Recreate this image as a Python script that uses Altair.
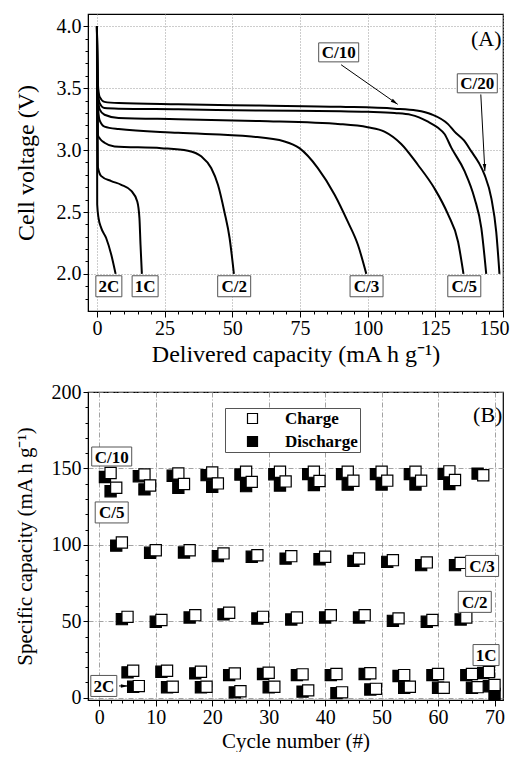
import math
import altair as alt
import pandas as pd

FONT = "Liberation Serif"

# ---------------- Panel A : discharge curves ----------------
curve_names = ["C/20", "C/10", "C/5", "C/3", "C/2", "1C", "2C"]
c20_x = [0, 0.3, 1, 2.8, 8, 30, 60, 90, 110, 118, 123.5, 129.7, 132.1, 135.5, 138.3, 141, 143.2, 145.7, 147.5, 148.7]
c20_v = [4.0, 3.55, 3.43, 3.39, 3.38, 3.37, 3.36, 3.35, 3.335, 3.32, 3.29, 3.21, 3.15, 3.08, 2.99, 2.90, 2.80, 2.61, 2.34, 2.0]
c10_x = [0, 0.3, 1, 2.8, 8, 30, 60, 90, 100, 110, 116, 122.3, 126, 128.4, 130.9, 135.8, 139.5, 142, 143.8]
c10_v = [4.0, 3.5, 3.38, 3.34, 3.335, 3.33, 3.32, 3.315, 3.31, 3.30, 3.285, 3.23, 3.18, 3.13, 3.02, 2.83, 2.61, 2.37, 2.0]
c5_x = [0, 0.3, 1, 2.8, 8, 30, 60, 90, 100, 106.2, 112.4, 118.6, 124.7, 129.7, 133.4, 135.4]
c5_v = [4.0, 3.45, 3.33, 3.286, 3.26, 3.25, 3.235, 3.21, 3.185, 3.15, 3.05, 2.88, 2.69, 2.48, 2.26, 2.0]
c3_x = [0, 0.3, 1, 2.8, 8, 30, 57, 69.3, 74.8, 81.6, 87.8, 92.7, 96.4, 99.5]
c3_v = [4.0, 3.38, 3.24, 3.19, 3.17, 3.14, 3.11, 3.07, 3.016, 2.855, 2.64, 2.42, 2.235, 2.0]
c2_x = [0, 0.37, 1.2, 2.8, 6.5, 23.8, 33.6, 38.5, 42.2, 44.7, 47.1, 49, 50.6]
c2_v = [4.0, 3.12, 3.09, 3.06, 3.03, 3.016, 2.995, 2.95, 2.855, 2.72, 2.5, 2.29, 2.0]
c1_x = [0, 0.37, 1.6, 5.3, 9.0, 12.7, 14.9, 15.7, 16.1, 16.6]
c1_v = [4.0, 2.86, 2.79, 2.75, 2.72, 2.67, 2.585, 2.45, 2.235, 2.0]
c2c_x = [0, 0.1, 0.6, 1.6, 3.4, 5.3, 6.9]
c2c_v = [4.0, 2.56, 2.45, 2.37, 2.29, 2.155, 2.0]

a_labels = ["2C", "1C", "C/2", "C/3", "C/5", "C/10", "C/20"]
a_label_x = [4.4, 17.8, 50.7, 99.6, 135.7, 89.3, 140.5]
a_label_y = [1.9, 1.9, 1.9, 1.9, 1.9, 3.79, 3.54]

a_arrow_from_x = [90.2, 141.8]
a_arrow_from_y = [3.69, 3.45]
a_arrow_to_x = [111.1, 143.3]
a_arrow_to_y = [3.37, 2.83]

a_x_major = [0, 25, 50, 75, 100, 125, 150]
a_y_major = [2.0, 2.5, 3.0, 3.5, 4.0]

# ---------------- Panel B : rate capability ----------------
b_c10_dx = [1, 7, 13, 19, 25, 31, 37, 43, 49, 55, 61, 67]
b_c10_d = [144.4, 144.9, 145.2, 145.6, 146.0, 146.2, 146.3, 146.3, 146.3, 146.3, 146.4, 146.6]
b_c10_cx = [2, 8, 14, 20, 26, 32, 38, 44, 50, 56, 62, 68]
b_c10_c = [147.0, 146.0, 146.7, 147.3, 147.8, 147.8, 147.9, 147.9, 147.9, 147.9, 148.1, 145.5]

b_c5_dx = [2, 8, 14, 20, 26, 32, 38, 44, 50, 56, 62]
b_c5_d = [135.1, 136.3, 137.4, 137.9, 138.4, 138.8, 139.2, 139.4, 139.5, 139.5, 139.8]
b_c5_cx = [3, 9, 15, 21, 27, 33, 39, 45, 51, 57, 63]
b_c5_c = [137.4, 138.8, 139.8, 140.2, 141.2, 141.5, 141.8, 141.9, 142.0, 142.0, 142.4]

b_c3_dx = [3, 9, 15, 21, 27, 33, 39, 45, 51, 57, 63]
b_c3_d = [99.5, 94.8, 95.0, 92.6, 92.2, 91.0, 90.6, 89.5, 88.9, 86.7, 86.7]
b_c3_cx = [4, 10, 16, 22, 28, 34, 40, 46, 52, 58, 64]
b_c3_c = [101.5, 96.5, 96.5, 94.4, 93.2, 92.6, 92.2, 91.1, 90.0, 88.5, 88.2]

b_c2_dx = [4, 10, 16, 22, 28, 34, 40, 46, 52, 58, 64]
b_c2_d = [51.4, 49.7, 52.5, 54.5, 51.8, 51.2, 52.5, 52.5, 50.3, 49.7, 51.2]
b_c2_cx = [5, 11, 17, 23, 29, 35, 41, 47, 53, 59, 65]
b_c2_c = [52.9, 50.8, 54.0, 55.6, 52.9, 52.5, 54.0, 54.0, 51.9, 50.8, 52.5]

b_1c_dx = [5, 11, 17, 23, 29, 35, 41, 47, 53, 59, 65, 68]
b_1c_d = [16.6, 17.0, 15.9, 14.8, 15.5, 14.8, 14.8, 15.5, 14.2, 14.8, 14.8, 16.2]
b_1c_cx = [6, 12, 18, 24, 30, 36, 42, 48, 54, 60, 66, 69]
b_1c_c = [17.6, 17.6, 17.0, 15.9, 16.3, 15.3, 15.5, 16.0, 14.8, 15.5, 15.5, 16.8]

b_2c_dx = [6, 12, 18, 24, 30, 36, 42, 48, 54, 60, 66, 69, 70]
b_2c_d = [7.2, 6.8, 6.8, 3.5, 6.8, 4.0, 3.0, 5.4, 6.5, 6.5, 6.5, 7.5, 2.5]
b_2c_cx = [7, 13, 19, 25, 31, 37, 43, 49, 55, 61, 67, 70]
b_2c_c = [7.6, 7.2, 7.2, 4.2, 7.2, 4.8, 3.5, 5.8, 7.2, 6.5, 6.9, 8.3]

b_labels = ["C/10", "C/5", "C/3", "C/2", "1C", "2C"]
b_label_x = [2.2, 2.2, 67.8, 66.5, 68.5, 0.8]
b_label_y = [157.8, 121.2, 86.2, 62.7, 27.9, 7.7]

b_arrow_from_x = [3.5]
b_arrow_from_y = [7.7]
b_arrow_to_x = [5.1]
b_arrow_to_y = [7.7]

b_x_major = [0, 10, 20, 30, 40, 50, 60, 70]
b_y_major = [0, 50, 100, 150, 200]

series_names = ["Charge", "Discharge"]

# ---------------- geometry / styles ----------------
A_W, A_H = 415, 297
B_W, B_H = 415, 308
A_XDOM, A_YDOM = [-3.3, 150], [1.7, 4.1]
B_XDOM, B_YDOM = [-2, 71.5], [-1.5, 200]

HEAD = "M0,0L0.45,1.8L-0.45,1.8Z"
BOX_EXPR = ("length(datum.label) <= 2 ? 'M-1.3,-1.05H1.3V1.05H-1.3Z' : "
            "(length(datum.label) == 3 ? 'M-1.65,-1.05H1.65V1.05H-1.65Z' : 'M-2,-0.95H2V0.95H-2Z')")
NBSP4 = "\u00a0\u00a0\u00a0\u00a0"


def cond(test, minor_val, major_val):
    return {"condition": {"test": test, "value": minor_val}, "value": major_val}


# Panel A axes
a_x_ticks = sorted(set(a_x_major + list(range(0, 151, 5))))
a_y_ticks = [round(1.8 + 0.1 * i, 1) for i in range(23)]
a_x_minor = "datum.value % 25 !== 0"
a_y_minor = "abs(datum.value*2 - round(datum.value*2)) > 0.001"

axA_x = alt.Axis(values=a_x_ticks, title="Delivered capacity (mA h g\u207b\u00b9)",
                 labelExpr=f"({a_x_minor}) ? '' : datum.label",
                 tickSize=cond(a_x_minor, 3, 6), gridOpacity=cond(a_x_minor, 0, 1),
                 gridDash=[1, 2], gridColor="#9a9a9a", gridWidth=1, titleFontSize=24,
                 labelPadding=1, titlePadding=4, labelOverlap=False,
                 labelFlush=5, labelFlushOffset=6)
axA_y = alt.Axis(values=a_y_ticks, title="Cell voltage (V)",
                 labelExpr=f"({a_y_minor}) ? '' : format(datum.value, '.1f')",
                 tickSize=cond(a_y_minor, 3, 5), gridOpacity=cond(a_y_minor, 0, 1),
                 gridDash=[1, 2], gridColor="#9a9a9a", gridWidth=1, titleFontSize=24,
                 labelPadding=2, titlePadding=18, labelOverlap=False, labelFlush=False)
scA_x = alt.Scale(domain=A_XDOM, nice=False, zero=False)
scA_y = alt.Scale(domain=A_YDOM, nice=False, zero=False)


def AX(f):
    return alt.X(f"{f}:Q", scale=scA_x, axis=axA_x)


def AY(f):
    return alt.Y(f"{f}:Q", scale=scA_y, axis=axA_y)


# Panel B axes
b_x_ticks = sorted(set(b_x_major + list(range(0, 71, 2))))
b_y_ticks = sorted(set(b_y_major + list(range(0, 201, 10))))
b_x_minor = "datum.value % 10 !== 0"
b_y_minor = "datum.value % 50 !== 0"
axB_x = alt.Axis(values=b_x_ticks, title="Cycle number (#)",
                 labelExpr=f"({b_x_minor}) ? '' : datum.label",
                 tickSize=cond(b_x_minor, 3, 6), gridOpacity=cond(b_x_minor, 0, 1),
                 gridDash=[5, 2, 1, 2], gridColor="#8a8a8a", gridWidth=0.8, titleFontSize=21,
                 labelPadding=1, titlePadding=3, labelOverlap=False, labelFlush=False)
axB_y = alt.Axis(values=b_y_ticks, title="Specific capacity (mA h g\u207b\u00b9)",
                 labelExpr=f"({b_y_minor}) ? '' : datum.label",
                 tickSize=cond(b_y_minor, 3, 5), gridOpacity=cond(b_y_minor, 0, 1),
                 gridDash=[5, 2, 1, 2], gridColor="#8a8a8a", gridWidth=0.8, titleFontSize=21,
                 labelPadding=2, titlePadding=16, labelOverlap=False, labelFlush=False)
scB_x = alt.Scale(domain=B_XDOM, nice=False, zero=False)
scB_y = alt.Scale(domain=B_YDOM, nice=False, zero=False)


def BX(f):
    return alt.X(f"{f}:Q", scale=scB_x, axis=axB_x)


def BY(f):
    return alt.Y(f"{f}:Q", scale=scB_y, axis=axB_y)


def head_angle(x0, y0, x1, y1, kx, ky):
    dx = (x1 - x0) * kx
    dy = -(y1 - y0) * ky
    return (math.degrees(math.atan2(dy, dx)) + 90) % 360


def labels_layers(df, X, Y):
    boxes = alt.Chart(df).transform_calculate(shp=BOX_EXPR).mark_point(
        filled=True, fill="white", stroke="#555", strokeWidth=1, size=400, opacity=1
    ).encode(x=X("x"), y=Y("y"), shape=alt.Shape("shp:N", scale=None))
    texts = alt.Chart(df).mark_text(
        font=FONT, fontWeight="bold", fontSize=17, align="center", baseline="middle", dy=1, color="black"
    ).encode(x=X("x"), y=Y("y"), text="label:N")
    return boxes, texts


def arrow_layers(fx, fy, tx, ty, X, Y, kx, ky):
    df = pd.DataFrame({"x0": fx, "y0": fy, "x1": tx, "y1": ty})
    df["ang"] = [head_angle(a, b, c, d, kx, ky) for a, b, c, d in zip(fx, fy, tx, ty)]
    rule = alt.Chart(df).mark_rule(color="black", strokeWidth=1).encode(
        x=X("x0"), y=Y("y0"), x2="x1:Q", y2="y1:Q")
    head = alt.Chart(df).mark_point(shape=HEAD, filled=True, fill="black", size=64, opacity=1).encode(
        x=X("x1"), y=Y("y1"), angle=alt.Angle("ang:Q", scale=None))
    return rule, head


# ---- build panel A ----
curve_xs = [c20_x, c10_x, c5_x, c3_x, c2_x, c1_x, c2c_x]
curve_vs = [c20_v, c10_v, c5_v, c3_v, c2_v, c1_v, c2c_v]
rows = []
for name, xs, vs in zip(curve_names, curve_xs, curve_vs):
    for i, (xv, vv) in enumerate(zip(xs, vs)):
        rows.append({"curve": name, "x": xv, "y": vv, "i": i})
dfA = pd.DataFrame(rows)

linesA = alt.Chart(dfA).mark_line(color="black", strokeWidth=2, interpolate="monotone").encode(
    x=AX("x"), y=AY("y"), detail="curve:N", order="i:Q")

dfA_lab = pd.DataFrame({"label": a_labels, "x": a_label_x, "y": a_label_y})
boxA, txtA = labels_layers(dfA_lab, AX, AY)
kAx = A_W / (A_XDOM[1] - A_XDOM[0])
kAy = A_H / (A_YDOM[1] - A_YDOM[0])
ruleA, headA = arrow_layers(a_arrow_from_x, a_arrow_from_y, a_arrow_to_x, a_arrow_to_y, AX, AY, kAx, kAy)
tagA = alt.Chart(pd.DataFrame({"x": [143.8], "y": [3.90], "t": ["(A)"]})).mark_text(
    font=FONT, fontSize=22, align="center", baseline="middle", color="black"
).encode(x=AX("x"), y=AY("y"), text="t:N")

panelA = alt.layer(linesA, ruleA, headA, boxA, txtA, tagA).properties(width=A_W, height=A_H)

# ---- build panel B ----
pts = []
for dx, dv in [(b_c10_dx, b_c10_d), (b_c5_dx, b_c5_d), (b_c3_dx, b_c3_d),
               (b_c2_dx, b_c2_d), (b_1c_dx, b_1c_d), (b_2c_dx, b_2c_d)]:
    for xv, vv in zip(dx, dv):
        pts.append({"cycle": xv, "cap": vv, "type": "Discharge"})
for cx, cv in [(b_c10_cx, b_c10_c), (b_c5_cx, b_c5_c), (b_c3_cx, b_c3_c),
               (b_c2_cx, b_c2_c), (b_1c_cx, b_1c_c), (b_2c_cx, b_2c_c)]:
    for xv, vv in zip(cx, cv):
        pts.append({"cycle": xv, "cap": vv, "type": "Charge"})
dfB = pd.DataFrame(pts)

legendB = alt.Legend(title=None, orient="none", legendX=137, legendY=16, direction="vertical",
                     symbolType="square", symbolSize=100, symbolStrokeColor="black",
                     symbolStrokeWidth=1.2, symbolOpacity=1, symbolOffset=17,
                     labelFont=FONT, labelFontWeight="bold", labelFontSize=17, labelColor="black",
                     labelOffset=24, labelExpr=f"datum.label + '{NBSP4}'",
                     padding=2, rowPadding=5, strokeColor="#555", fillColor="white")

pointsB = alt.Chart(dfB).mark_square(size=125, stroke="black", strokeWidth=1.2, opacity=1).encode(
    x=BX("cycle"), y=BY("cap"),
    fill=alt.Fill("type:N", scale=alt.Scale(domain=series_names, range=["white", "black"]), legend=legendB))

dfB_lab = pd.DataFrame({"label": b_labels, "x": b_label_x, "y": b_label_y})
boxB, txtB = labels_layers(dfB_lab, BX, BY)
kBx = B_W / (B_XDOM[1] - B_XDOM[0])
kBy = B_H / (B_YDOM[1] - B_YDOM[0])
ruleB, headB = arrow_layers(b_arrow_from_x, b_arrow_from_y, b_arrow_to_x, b_arrow_to_y, BX, BY, kBx, kBy)
tagB = alt.Chart(pd.DataFrame({"x": [68.8], "y": [184.7], "t": ["(B)"]})).mark_text(
    font=FONT, fontSize=22, align="center", baseline="middle", color="black"
).encode(x=BX("x"), y=BY("y"), text="t:N")

panelB = alt.layer(pointsB, ruleB, headB, boxB, txtB, tagB).properties(width=B_W, height=B_H)

chart = alt.vconcat(
    panelA, panelB, spacing=14, background="white",
    padding={"left": 5, "top": 5, "right": 0, "bottom": 0}
).resolve_scale(fill="independent").resolve_legend(fill="independent").configure_axis(
    labelFont=FONT, titleFont=FONT, labelFontSize=20, titleFontSize=22, titleFontWeight="normal",
    labelColor="black", titleColor="black", domainColor="black", tickColor="black",
    domainWidth=1, tickWidth=1
).configure_view(stroke="black", strokeWidth=1.2)

chart.save("out.html", embed_options={"renderer": "svg", "actions": False})
